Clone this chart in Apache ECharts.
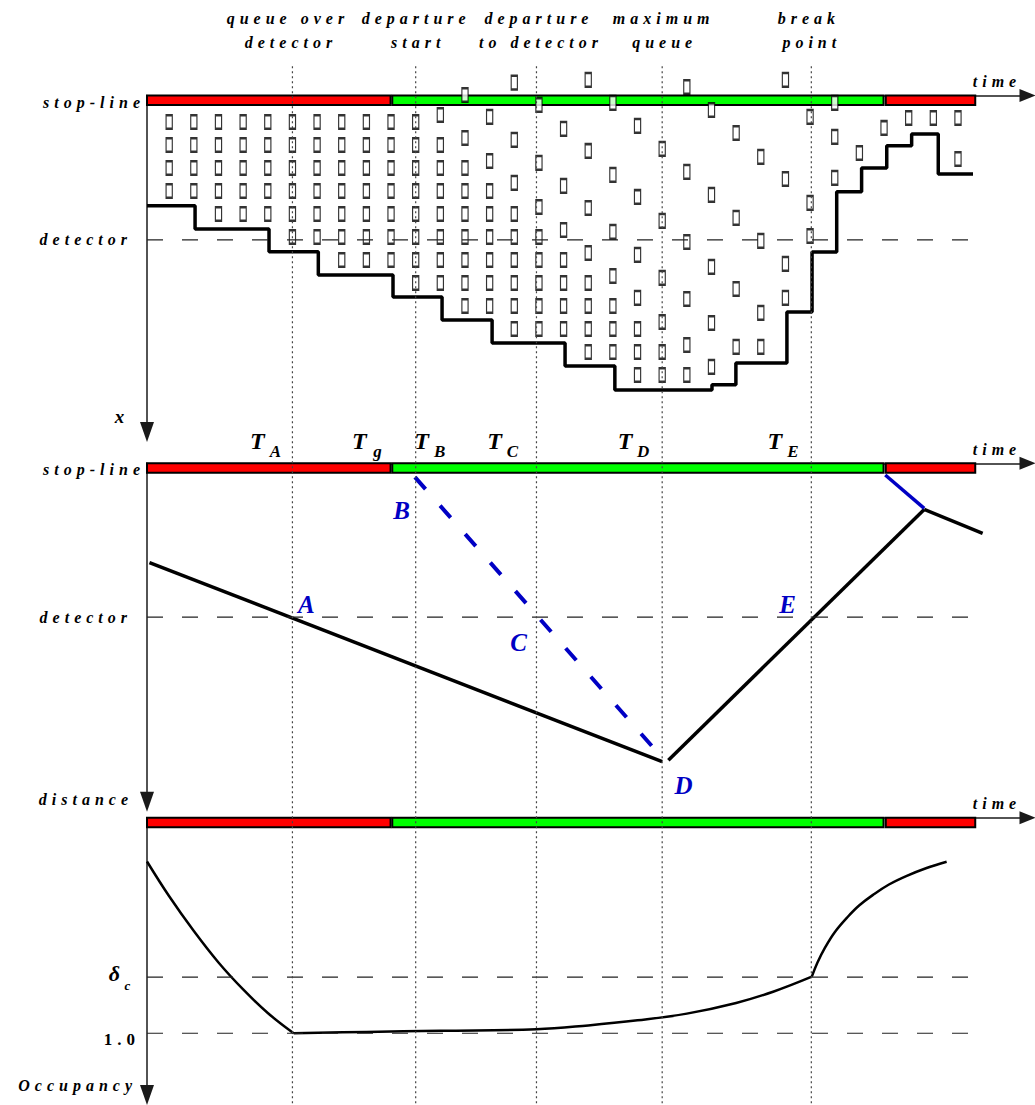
<!DOCTYPE html>
<html>
<head>
<meta charset="utf-8">
<script src="https://cdn.jsdelivr.net/npm/echarts@6/dist/echarts.min.js"></script>
<style>
  html, body { margin: 0; padding: 0; background: #fff; }
  #chart { width: 1035px; height: 1105px; }
  #chart svg text { letter-spacing: 5px; }
</style>
</head>
<body>
<div id="chart"></div>
<script>
// time axis, in steps (one column of vehicles per step)
const T_MIN = -0.9, T_MAX = 34.82;
const markTimes = [5, 10, 14.9, 20, 26.05];
const signalPhases = [[-0.9, 8.98, 'red'], [9.05, 28.98, 'green'], [29.07, 32.7, 'red']];

// top panel: vehicle positions per time step (queue rows, 1 = first car at the stop-line)
const vehicleColumns = [
  [1, 2, 3, 4],
  [1, 2, 3, 4],
  [1, 2, 3, 4, 5],
  [1, 2, 3, 4, 5],
  [1, 2, 3, 4, 5],
  [1, 2, 3, 4, 5, 6],
  [1, 2, 3, 4, 5, 6],
  [1, 2, 3, 4, 5, 6, 7],
  [1, 2, 3, 4, 5, 6, 7],
  [1, 2, 3, 4, 5, 6, 7],
  [1, 2, 3, 4, 5, 6, 7, 8],
  [0.7, 2, 3, 4, 5, 6, 7, 8],
  [-0.17, 1.7, 3, 4, 5, 6, 7, 8, 9],
  [0.78, 2.7, 4, 5, 6, 7, 8, 9],
  [-0.71, 1.78, 3.65, 5, 6, 7, 8, 9, 10],
  [0.26, 2.78, 4.7, 6, 7, 8, 9, 10],
  [1.3, 3.78, 5.7, 7, 8, 9, 10],
  [-0.83, 2.26, 4.74, 6.7, 8, 9, 10, 11],
  [0.17, 3.3, 5.78, 7.7, 9, 10, 11],
  [1.17, 4.26, 6.78, 8.65, 10, 11, 12],
  [2.17, 5.3, 7.78, 9.7, 11, 12],
  [-0.52, 3.17, 6.22, 8.7, 10.7, 12],
  [0.48, 4.17, 7.3, 9.74, 11.65],
  [1.48, 5.17, 8.26, 10.78],
  [2.52, 6.17, 9.3, 10.78],
  [-0.83, 3.48, 7.17, 8.65],
  [0.78, 4.52, 5.96],
  [0.17, 1.65, 3.43],
  [2.35],
  [1.26],
  [0.83],
  [0.83],
  [0.83, 2.61]
];
const queueStepTimes = [-0.9, 1.05, 4.05, 6.05, 9.08, 11.07, 13.1, 16.06, 18.08, 22.02, 22.99, 25.06, 26.08, 27.08, 28.09, 29.11, 30.12, 31.2, 32.61];
const queueLevels = [4.64, 5.65, 6.64, 7.65, 8.61, 9.61, 10.61, 11.61, 12.65, 12.43, 11.48, 9.26, 6.65, 4.04, 3.0, 2.04, 1.52, 3.26, 3.26];
const detectorRow = 6.13;

// middle panel: distance from stop-line (detector = 10)
const detectorDist = 10;
const queueTailWave = [[-0.8, 6.45], [20, 19.4]];
const dischargeWave = [[9.97, 0.9], [19.79, 18.76]];
const recoveryWave = [[20.25, 19.3], [30.63, 3.0]];
const newQueueWave = [[30.63, 3.0], [33.0, 4.55]];
const redStartWave = [[29.05, 0.76], [30.63, 2.93]];

// bottom panel: occupancy
const occLevels = [1.0, 1.5];
const occDecay = [[-0.9, 2.53], [0, 2.22], [1, 1.91], [2, 1.63], [3, 1.39], [4, 1.18], [5.05, 1.0]];
const occFlat = [[5.05, 1.0], [8, 1.012], [11, 1.022], [14.9, 1.035], [17, 1.07], [19, 1.115], [21, 1.175], [23, 1.27], [24.5, 1.37], [26.07, 1.504]];
const occRise = [[26.07, 1.504], [26.3, 1.63], [26.6, 1.76], [27, 1.9], [27.5, 2.03], [28, 2.14], [28.6, 2.24], [29.2, 2.325], [29.9, 2.4], [30.7, 2.47], [31.54, 2.528]];

// labels
const titleRows = [['queue over', 'detector'], ['departure', 'start'], ['departure', 'to detector'], ['maximum', 'queue'], ['break', 'point']];
const titleShift = [[-7, -4], [-2, 0], [0, 2], [-1, 0], [-5, -2]];
const tLabels = [['A', 3.68], ['g', 7.82], ['B', 10.34], ['C', 13.3], ['D', 18.6], ['E', 24.67]];
const pointLabels = [['A', 5.67, 9.15], ['B', 9.53, 3.04], ['C', 14.28, 11.63], ['D', 20.97, 20.92], ['E', 25.19, 9.15]];

const SERIF = '"Liberation Serif", "Times New Roman", serif';
const BLUE = '#0000c4';
const DETECTOR_END = 32.81;

const chart = echarts.init(document.getElementById('chart'), null, { renderer: 'svg' });

const axisLineStyle = { color: '#1a1a1a', width: 1.5 };
const hidden = { axisTick: { show: false }, axisLabel: { show: false }, splitLine: { show: false } };

function xAxis(g, show) {
  return Object.assign({
    gridIndex: g, type: 'value', min: T_MIN, max: T_MAX, position: 'top', show: show,
    axisLine: { show: true, onZero: false, symbol: ['none', 'triangle'], symbolSize: [13, 16], lineStyle: axisLineStyle }
  }, hidden);
}
function yAxis(g, min, max, inverse, show) {
  return Object.assign({
    gridIndex: g, type: 'value', min: min, max: max, inverse: inverse, position: 'left', show: show,
    axisLine: { show: true, onZero: false, symbol: ['triangle', 'none'], symbolSize: [14, 20], lineStyle: axisLineStyle }
  }, hidden);
}
function line(g, data, color, width, type, z, extra) {
  return Object.assign({
    type: 'line', xAxisIndex: g, yAxisIndex: g, data: data, symbol: 'none', showSymbol: false,
    silent: true, animation: false, z: z || 4,
    lineStyle: { color: color, width: width, type: type || 'solid', cap: 'butt' }
  }, extra || {});
}
function signalBar(g) {
  return {
    type: 'custom', xAxisIndex: g, yAxisIndex: g, silent: true, animation: false, z: 2,
    data: signalPhases.map(p => [p[0], p[1]]),
    renderItem: (params, api) => {
      const y0 = params.coordSys.y;
      const x0 = api.coord([api.value(0), g === 2 ? 2 : 1])[0];
      const x1 = api.coord([api.value(1), g === 2 ? 2 : 1])[0];
      const c = signalPhases[params.dataIndex][2] === 'red' ? '#ff0000' : '#00ff00';
      return {
        type: 'rect',
        shape: { x: x0, y: y0, width: x1 - x0, height: 9.5 },
        style: { fill: c, stroke: '#000', lineWidth: 2 }
      };
    }
  };
}

const vehicles = [];
vehicleColumns.forEach((col, t) => col.forEach(r => vehicles.push([t, r])));
const queueTail = queueStepTimes.map((t, i) => [t, queueLevels[i]]);

const dotStyle = [2, 3];
const dashStyle = [16, 19];
const curve = { smooth: 0.4 };

const series = [
  signalBar(0), signalBar(1), signalBar(2),
  {
    type: 'scatter', xAxisIndex: 0, yAxisIndex: 0, data: vehicles, symbol: 'rect', symbolSize: [6.2, 13.6],
    silent: true, animation: false, z: 3, clip: false,
    itemStyle: { color: '#fff', borderColor: '#000', borderWidth: 1.7 }
  },
  line(0, queueTail, '#000', 3.5, 'solid', 4, { step: 'end' }),
  line(0, [[T_MIN, detectorRow], [DETECTOR_END, detectorRow]], '#222', 1.2, dashStyle, 5),

  line(1, [[T_MIN, detectorDist], [DETECTOR_END, detectorDist]], '#222', 1.2, dashStyle, 5),
  line(1, queueTailWave, '#000', 3.5),
  line(1, dischargeWave, BLUE, 4, [16, 22]),
  line(1, recoveryWave, '#000', 3.5),
  line(1, newQueueWave, '#000', 3.5),
  line(1, redStartWave, BLUE, 3.5),

  line(2, [[T_MIN, occLevels[0]], [DETECTOR_END, occLevels[0]]], '#222', 1.2, dashStyle, 5),
  line(2, [[T_MIN, occLevels[1]], [DETECTOR_END, occLevels[1]]], '#222', 1.2, dashStyle, 5),
  line(2, occDecay, '#000', 2.5, 'solid', 4, curve),
  line(2, occFlat, '#000', 2.5, 'solid', 4, curve),
  line(2, occRise, '#000', 2.5, 'solid', 4, curve)
];
markTimes.forEach(t => series.push(line(3, [[t, 0.06], [t, 1]], '#444', 1.2, dotStyle, 6)));

const option = {
  animation: false,
  backgroundColor: '#fff',
  grid: [
    { left: 147, right: 7.5, top: 95.5, height: 336.5 },
    { left: 147, right: 7.5, top: 463.3, height: 338.4 },
    { left: 147, right: 7.5, top: 817.7, height: 277.3 },
    { left: 147, right: 7.5, top: 0, height: 1105 }
  ],
  xAxis: [xAxis(0, true), xAxis(1, true), xAxis(2, true), xAxis(3, false)],
  yAxis: [
    yAxis(0, -0.15, 14.48, true, true),
    yAxis(1, 0, 22, true, true),
    yAxis(2, 0.45, 2.92, false, true),
    yAxis(3, 0, 1, true, false)
  ],
  series: series
};
chart.setOption(option);

// text annotations, anchored to the axes
const P = (g, t, v) => chart.convertToPixel({ gridIndex: g }, [t, v]);
function txt(text, x, y, size, align, extra) {
  return {
    type: 'text', x: x, y: y, z: 10, silent: true,
    style: Object.assign({
      text: text, fill: '#000', align: align || 'center', verticalAlign: 'middle',
      textAlign: align || 'center', textVerticalAlign: 'middle',
      font: 'italic bold ' + size + 'px ' + SERIF
    }, extra || {})
  };
}

const graphics = [];
titleRows.forEach((rows, i) => {
  const x = P(0, markTimes[i], 0)[0] + 2.5;
  graphics.push(txt(rows[0], x + titleShift[i][0], 18, 16));
  graphics.push(txt(rows[1], x + titleShift[i][1], 42, 16));
});

const topY = P(0, 0, -0.15)[1], midY = P(1, 0, 0)[1], botY = P(2, 0, 2.92)[1];
[topY, midY].forEach(y => graphics.push(txt('stop-line', 145, y + 6.5, 16, 'right')));
graphics.push(txt('detector', 132, P(0, 0, detectorRow)[1], 16, 'right'));
graphics.push(txt('detector', 132, P(1, 0, detectorDist)[1], 16, 'right'));
graphics.push(txt('x', 122, 416, 19));
graphics.push(txt('distance', 133, 799, 16, 'right'));
graphics.push(txt('Occupancy', 137, 1085, 16, 'right'));
[topY, midY, botY].forEach(y => graphics.push(txt('time', 997, y - 14, 16)));

const d1 = P(2, 0, occLevels[0])[1], dc = P(2, 0, occLevels[1])[1];
graphics.push(txt('1.0', 140, d1 + 6, 17, 'right', { font: 'bold 17px ' + SERIF }));
graphics.push(txt('\u03b4', 117, dc - 4, 22, 'center', { font: 'italic bold 22px ' + SERIF }));
graphics.push(txt('c', 130, dc + 8, 13));

tLabels.forEach(([sub, t]) => {
  const x = P(1, t, 0)[0];
  graphics.push(txt('T', x, 441, 24));
  graphics.push(txt(sub, x + 18, 451, 17));
});
pointLabels.forEach(([name, t, d]) => {
  const p = P(1, t, d);
  graphics.push(txt(name, p[0], p[1], 25, 'center', { fill: BLUE }));
});

chart.setOption({ graphic: { elements: graphics } });
</script>
</body>
</html>
